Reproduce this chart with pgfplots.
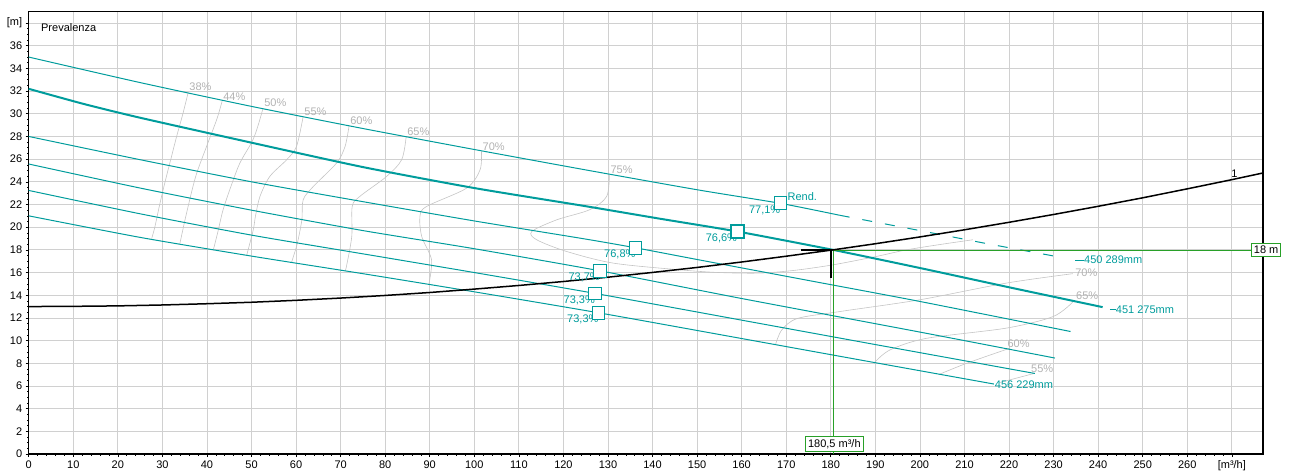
\documentclass[border=0pt]{standalone}
\usepackage{pgfplots}
\pgfplotsset{compat=1.18}
\usepackage{fontspec}
\setmainfont{Liberation Sans}
\definecolor{tealc}{RGB}{0,156,156}
\definecolor{gridc}{RGB}{208,208,208}
\definecolor{effc}{RGB}{196,196,196}
\definecolor{efflab}{RGB}{178,178,178}
\definecolor{greenc}{RGB}{40,160,40}
\newcommand{\fs}{\fontsize{11}{12.5}\selectfont}
\begin{document}
\begin{tikzpicture}[font=\fs]
\useasboundingbox (-28.7pt,-16.7pt) rectangle (1260.3pt,454pt);
\begin{axis}[
 scale only axis, width=1234.3pt, height=442.3pt,
 xmin=0, xmax=277, ymin=0, ymax=39,
 xtick={0,10,20,30,40,50,60,70,80,90,100,110,120,130,140,150,160,170,180,190,200,210,220,230,240,250,260,270},
 xticklabels={0,10,20,30,40,50,60,70,80,90,100,110,120,130,140,150,160,170,180,190,200,210,220,230,240,250,260,{[m³/h]}},
 ytick={0,2,4,6,8,10,12,14,16,18,20,22,24,26,28,30,32,34,36,38},
 yticklabels={0,2,4,6,8,10,12,14,16,18,20,22,24,26,28,30,32,34,36,{[m]}},
 xtick pos=left, ytick pos=left,
 grid=major, major grid style={gridc, line width=0.8pt},
 axis line style={black, line width=1.2pt},
 tick align=outside, major tick length=3pt, minor tick length=1.5pt,
 minor x tick num=4, minor y tick num=3,
 every tick/.style={black, line width=0.6pt},
 ticklabel style={font=\fs},
 clip=false,
]
% ---- iso-efficiency curves (left group)
\pgfplotsset{eff/.style={effc, line width=0.6pt, smooth, tension=0.5},
 pump/.style={tealc, line width=1pt, smooth, tension=0.4}}
\addplot[eff] coordinates {(35.8,31.9) (34.6,30.0) (33.2,28.0) (31.9,26.0) (30.6,24.0) (29.4,22.0) (28.3,20.0) (27.6,19.0)};
\addplot[eff] coordinates {(43.4,31.1) (42.2,29.5) (39.9,27.1) (37.5,24.5) (35.4,21.2) (33.9,18.5)};
\addplot[eff] coordinates {(52.6,30.5) (51.5,29.0) (50.2,27.6) (47.4,25.66) (45.3,23.5) (43.6,21.5) (42.4,19.5) (41.4,17.95)};
\addplot[eff] coordinates {(61.6,29.77) (60.1,27.12) (57.9,25.95) (54.1,24.47) (51.9,22.71) (50.9,21.0) (50.4,19.77) (48.9,17.5)};
\addplot[eff] coordinates {(71.9,28.95) (71.0,27.12) (69.1,25.66) (63.9,23.6) (61.6,22.42) (61.3,20.65) (60.3,18.6) (59.4,17.41) (59.0,16.9)};
\addplot[eff] coordinates {(84.7,27.95) (83.7,25.95) (80.3,24.47) (74.3,22.71) (72.6,21.83) (72.5,19.18) (71.3,16.53) (71.0,16.15)};
\addplot[eff] coordinates {(101.6,26.68) (101.3,25.07) (98.3,23.45) (89.3,21.83) (87.8,20.95) (88.2,19.18) (90.4,17.12) (89.8,14.96)};
\addplot[eff] coordinates {(130.3,24.62) (129.7,22.71) (125.9,21.54) (118.5,20.65) (112.9,19.62) (114.0,18.89) (120.7,17.86) (131.2,16.83) (146.1,16.24) (155,16.0) (164,15.95) (172,16.2) (180.5,16.68) (190,17.4) (197,18.0) (205,18.5) (211.9,18.89)};
% ---- iso-efficiency curves (right group)
\addplot[eff] coordinates {(234.3,15.9) (219.4,15.07) (200,13.6) (182,12.56) (172.5,11.95) (169,10.94) (167.6,9.65)};
\addplot[eff] coordinates {(234.4,13.44) (229.9,12.12) (219.4,11.1) (201.5,10.2) (193.3,9.18) (189.8,8.06)};
\addplot[eff] coordinates {(220.2,9.33) (210.5,8.0) (204.5,7.05)};
\addplot[eff] coordinates {(225.8,7.12) (217.9,6.3)};
% ---- pump curves
\addplot[pump] coordinates {(0,35.0) (25,32.75) (50,30.65) (75,28.7) (100,26.85) (125,25.05) (150,23.3) (168.7,22.1) (182,21.05)};
\addplot[tealc, line width=1pt, dash pattern=on 10pt off 13pt] coordinates {(182,21.05) (200,19.7) (215,18.55) (231.8,17.33)};
\addplot[pump, line width=2pt] coordinates {(0,32.2) (12.5,30.85) (25,29.65) (50,27.45) (75,25.3) (100,23.45) (125,21.85) (141.6,20.75) (159,19.62) (180.5,18.0) (200,16.4) (220,14.7) (241,12.95)};
\addplot[pump] coordinates {(0,28.0) (25,25.95) (50,24.0) (75,22.25) (100,20.55) (125,18.95) (136.2,18.18) (150,17.15) (175,15.3) (200,13.45) (233.8,10.8)};
\addplot[pump] coordinates {(0,25.57) (25,23.45) (50,21.5) (75,19.7) (100,18.1) (128.2,16.15) (159.6,13.74) (200,10.75) (230.3,8.46)};
\addplot[pump] coordinates {(0,23.24) (25,21.18) (50,19.3) (75,17.65) (100,16.0) (127.1,14.16) (159.6,11.83) (190,9.65) (225.8,7.1)};
\addplot[pump] coordinates {(0,21.0) (25,19.1) (50,17.45) (75,15.9) (100,14.3) (127.9,12.45) (159.6,10.21) (190,8.05) (216.6,6.17)};
% ---- green guide lines
\addplot[greenc, line width=0.7pt] coordinates {(180.5,18.0) (277,18.0)};
\addplot[greenc, line width=0.7pt] coordinates {(180.5,18.0) (180.5,0)};
% ---- system curve
\addplot[black, line width=1.5pt] coordinates {(0,13.0) (10,13.02) (20,13.06) (30,13.14) (40,13.25) (50,13.38) (60,13.55) (70,13.75) (80,13.98) (90,14.24) (100,14.54) (110,14.86) (120,15.21) (130,15.59) (140,16.01) (150,16.45) (160,16.93) (170,17.44) (180.5,18.0) (190,18.54) (200,19.14) (210,19.77) (220,20.43) (230,21.12) (240,21.84) (250,22.59) (260,23.38) (270,24.19) (277,24.78)};
\addplot[black, line width=1.6pt] coordinates {(173.4,18.0) (180.2,18.0)};
\addplot[black, line width=1.6pt] coordinates {(180.0,18.0) (180.0,15.5)};
% ---- efficiency markers
\addplot[only marks, mark=square*, mark size=6.3pt, mark options={draw=tealc, fill=white, line width=1pt}] coordinates {(168.7,22.11) (136.2,18.18) (128.2,16.15) (127.1,14.16) (127.9,12.45)};
\addplot[only marks, mark=square*, mark size=6.3pt, mark options={draw=tealc, fill=white, line width=2pt}] coordinates {(159.0,19.62)};
% ---- labels
\node[anchor=west] at (axis cs:2,37.64) {Prevalenza};
\begin{scope}[every node/.style={text=efflab, inner sep=1pt, anchor=south west}]
\node at (axis cs:35.8,31.9) {38\%};
\node at (axis cs:43.4,31.1) {44\%};
\node at (axis cs:52.6,30.5) {50\%};
\node at (axis cs:61.6,29.77) {55\%};
\node at (axis cs:71.9,28.95) {60\%};
\node at (axis cs:84.7,27.95) {65\%};
\node at (axis cs:101.6,26.68) {70\%};
\node at (axis cs:130.3,24.62) {75\%};
\node at (axis cs:234.6,15.55) {70\%};
\node at (axis cs:234.8,13.5) {65\%};
\node at (axis cs:219.4,9.3) {60\%};
\node at (axis cs:224.7,7.1) {55\%};
\end{scope}
\begin{scope}[every node/.style={text=tealc, inner sep=0pt, anchor=north east}]
\node at ([yshift=-2pt]axis cs:168.7,22.11) {77,1\%};
\node at ([yshift=-2pt]axis cs:159.0,19.62) {76,6\%};
\node at ([yshift=-2pt]axis cs:136.2,18.18) {76,8\%};
\node at ([yshift=-2pt]axis cs:128.2,16.15) {73,7\%};
\node at ([yshift=-2pt]axis cs:127.1,14.16) {73,3\%};
\node at ([yshift=-2pt]axis cs:127.9,12.45) {73,3\%};
\end{scope}
\node[text=tealc, inner sep=0pt, anchor=south west] at ([xshift=7pt,yshift=2pt]axis cs:168.7,22.11) {Rend.};
\node[text=tealc, inner sep=0pt, anchor=west] at (axis cs:234.8,17.1) {\rule[0.5ex]{9pt}{0.8pt}450 289mm};
\node[text=tealc, inner sep=0pt, anchor=west] at (axis cs:242.6,12.75) {\rule[0.5ex]{6pt}{0.8pt}451 275mm};
\node[text=tealc, inner sep=0pt, anchor=west] at (axis cs:216.8,6.1) {456 229mm};
\node[inner sep=0.5pt, anchor=south] at (axis cs:270.6,24.3) {1};
\node[draw=greenc, fill=white, line width=0.8pt, inner sep=2.5pt] at (axis cs:277.7,18.0) {18 m};
\node[draw=greenc, fill=white, line width=0.8pt, inner sep=2.5pt] at (axis cs:180.8,0.9) {180,5 m³/h};
\end{axis}
\end{tikzpicture}
\end{document}
